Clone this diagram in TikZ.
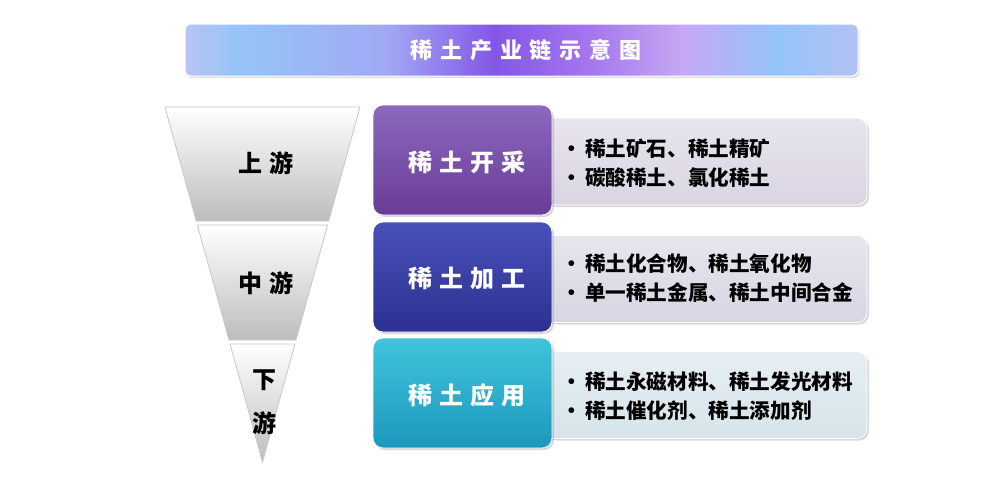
\documentclass[tikz,border=0pt]{standalone}
\usepackage{fontspec}
\newfontfamily\cjk{Noto Sans CJK SC}
\newfontfamily\cjktitle[LetterSpace=36]{Noto Sans CJK SC}
\newfontfamily\cjklabel[LetterSpace=30]{Noto Sans CJK SC}
\usetikzlibrary{shadows}
\definecolor{tA}{HTML}{B8C4F2}
\definecolor{tB}{HTML}{96C4F8}
\definecolor{tC}{HTML}{A0A8F4}
\definecolor{tD}{HTML}{8456E6}
\definecolor{tE}{HTML}{A476EE}
\definecolor{tF}{HTML}{C6A8F4}
\definecolor{tG}{HTML}{94C4FA}
\definecolor{tH}{HTML}{B4C2F4}
\pgfdeclarehorizontalshading{titleshade}{100bp}{color(0bp)=(tA); color(25bp)=(tA); color(29bp)=(tB); color(40bp)=(tC); color(48bp)=(tD); color(55bp)=(tE); color(62bp)=(tF); color(69bp)=(tG); color(75bp)=(tH); color(100bp)=(tH)}
\definecolor{purpTop}{HTML}{8C68BE}
\definecolor{purpBot}{HTML}{683C98}
\definecolor{blueTop}{HTML}{4A50BA}
\definecolor{blueBot}{HTML}{2C3090}
\definecolor{tealTop}{HTML}{40C4DC}
\definecolor{tealBot}{HTML}{1C98BE}
\definecolor{grayA}{HTML}{D9D4E2}
\definecolor{grayB}{HTML}{D6D6E4}
\definecolor{grayC}{HTML}{D6E4EA}
\definecolor{funBot}{HTML}{BDBDBD}
\definecolor{funEdge}{HTML}{C8C8C8}
\begin{document}
\begin{tikzpicture}[x=1pt,y=-1pt,
  titlebar/.style={rounded corners=6pt, minimum width=673pt, minimum height=52pt,
    shading=titleshade, draw=white, line width=1pt,
    drop shadow={shadow xshift=1.5pt, shadow yshift=-2pt, opacity=0.25}},
  titletext/.style={text=white, font=\cjktitle\bfseries\fontsize{22}{22}\selectfont},
  catbox/.style={rounded corners=10pt, minimum width=179pt, minimum height=110pt,
    draw=white, line width=0.8pt,
    drop shadow={shadow xshift=2pt, shadow yshift=-2pt, opacity=0.3}},
  cattext/.style={text=white, font=\cjklabel\bfseries\fontsize{24}{24}\selectfont},
  detbox/.style={rounded corners=10pt, minimum width=322pt, minimum height=87pt,
    draw=white, line width=0.8pt,
    drop shadow={shadow xshift=2pt, shadow yshift=-2pt, opacity=0.3}},
  dettext/.style={anchor=west, align=left, text=black,
    font=\cjk\bfseries\fontsize{20.6}{29}\selectfont},
  funseg/.style={top color=white, bottom color=funBot, draw=funEdge, line width=0.8pt},
  funtext/.style={text=black, font=\cjklabel\bfseries\fontsize{24}{24}\selectfont}
]
\useasboundingbox (0,0) rectangle (987,480);
\fill[white] (0,0) rectangle (987,480);

% title
\node[titlebar] (title) at (521.5,50) {};
\node[titletext] (titletxt) at (526,50) {稀土产业链示意图};

% funnel
\path[funseg] (165,107) -- (360,107) -- (328.7,221) -- (196.3,221) -- cycle;
\path[funseg] (197.4,225) -- (327.6,225) -- (296,340) -- (229,340) -- cycle;
\path[funseg] (230.1,344) -- (294.9,344) -- (262.5,462) -- cycle;
\node[funtext] (up) at (266,163) {上游};
\node[funtext] (mid) at (266,283) {中游};
\node[funtext] (down1) at (264,380) {下};
\node[funtext] (down2) at (264,423) {游};

% row 1
\node[detbox, top color=grayA!60!white, bottom color=grayA] (d1box) at (706,161.5) {};
\node[catbox, top color=purpTop, bottom color=purpBot] (c1) at (462.5,160) {};
\node[cattext] (c1t) at (467,162) {稀土开采};
\node[dettext] (d1) at (558,163) {•\hspace{3pt}稀土矿石、稀土精矿\\•\hspace{3pt}碳酸稀土、氯化稀土};

% row 2
\node[detbox, top color=grayB!60!white, bottom color=grayB] (d2box) at (706,279) {};
\node[catbox, top color=blueTop, bottom color=blueBot] (c2) at (462.5,277) {};
\node[cattext] (c2t) at (467,278) {稀土加工};
\node[dettext] (d2) at (558,278.5) {•\hspace{3pt}稀土化合物、稀土氧化物\\•\hspace{3pt}单一稀土金属、稀土中间合金};

% row 3
\node[detbox, top color=grayC!60!white, bottom color=grayC] (d3box) at (706,395) {};
\node[catbox, top color=tealTop, bottom color=tealBot] (c3) at (462.5,393) {};
\node[cattext] (c3t) at (467,395) {稀土应用};
\node[dettext] (d3) at (558,396) {•\hspace{3pt}稀土永磁材料、稀土发光材料\\•\hspace{3pt}稀土催化剂、稀土添加剂};
\end{tikzpicture}
\end{document}
